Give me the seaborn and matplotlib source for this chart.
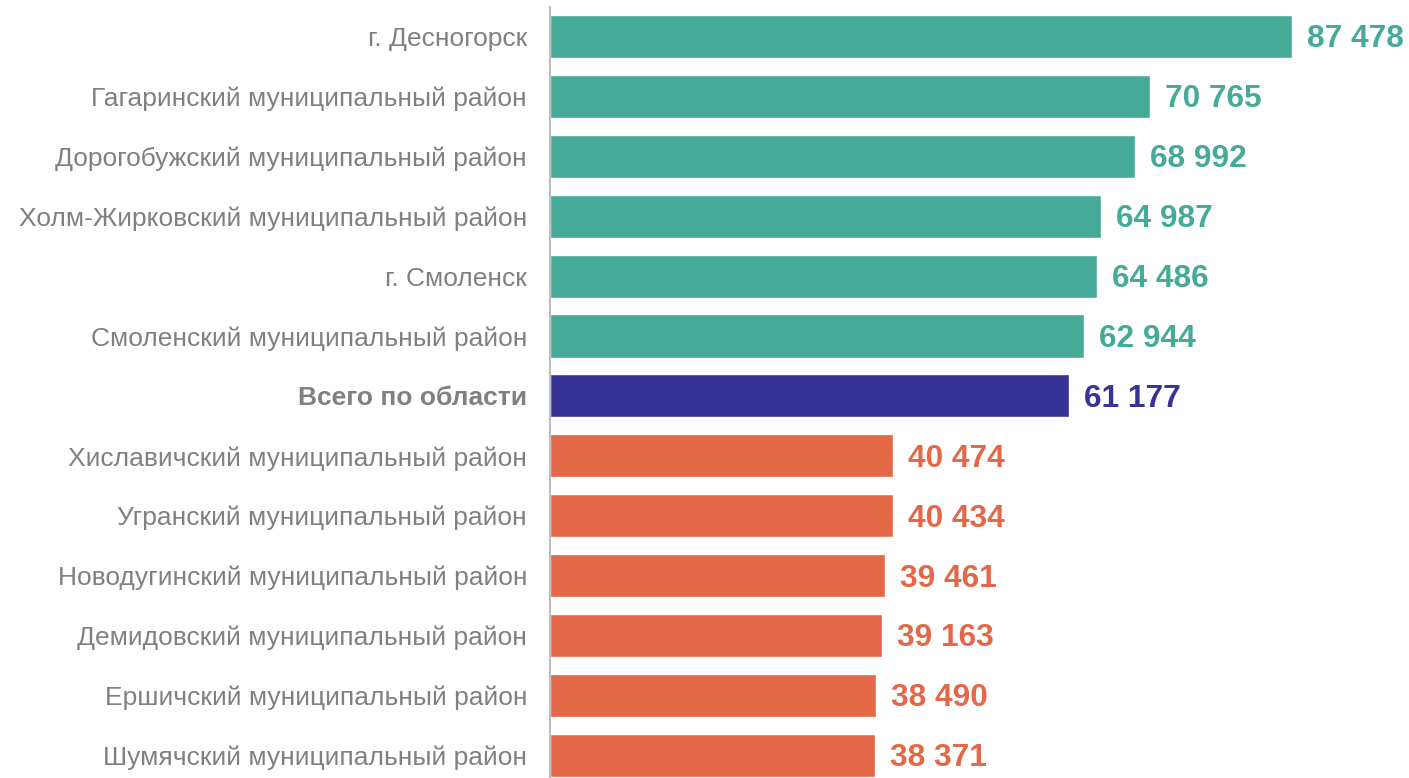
import pandas as pd
import matplotlib
matplotlib.use("Agg")
import matplotlib.pyplot as plt
import seaborn as sns

# Data
districts = [
    "г. Десногорск",
    "Гагаринский муниципальный район",
    "Дорогобужский муниципальный район",
    "Холм-Жирковский муниципальный район",
    "г. Смоленск",
    "Смоленский муниципальный район",
    "Всего по области",
    "Хиславичский муниципальный район",
    "Угранский муниципальный район",
    "Новодугинский муниципальный район",
    "Демидовский муниципальный район",
    "Ершичский муниципальный район",
    "Шумячский муниципальный район",
]
values = [87478, 70765, 68992, 64987, 64486, 62944, 61177,
          40474, 40434, 39461, 39163, 38490, 38371]
groups = ["above"] * 6 + ["total"] + ["below"] * 6

palette = {"above": "#45AB98", "total": "#383497", "below": "#E36847"}

df = pd.DataFrame({"district": districts, "value": values, "group": groups})

sns.set_style("white")
plt.rcParams["font.family"] = ["Liberation Sans", "DejaVu Sans"]

fig = plt.figure(figsize=(14.09, 7.78), dpi=100)
ax = fig.add_axes([550 / 1409, 0, 1 - 550 / 1409, (778 - 7) / 778])

sns.barplot(data=df, x="value", y="district", hue="group", palette=palette,
            dodge=False, legend=False, width=0.718, saturation=1, ax=ax)

px_per_unit = (1292 - 550) / 87478
ax.set_xlim(0, (1409 - 550) / px_per_unit)
ax.set_ylim((778 - 36.5) / 59.9, (7 - 36.5) / 59.9)

# value labels
for i, (v, g) in enumerate(zip(values, groups)):
    label = f"{v:,}".replace(",", " ")
    ax.text(v + 15 / px_per_unit, i + 0.05, label, va="center", ha="left",
            color=palette[g], fontsize=22.8, fontweight="bold")

ax.set_xlabel("")
ax.set_ylabel("")
ax.set_xticks([])
ax.tick_params(axis="y", length=0, pad=16.5, labelsize=19, labelcolor="#808080")
for lbl in ax.get_yticklabels():
    if lbl.get_text() == "Всего по области":
        lbl.set_fontweight("bold")

for side in ["top", "right", "bottom"]:
    ax.spines[side].set_visible(False)
ax.spines["left"].set_color("#BFBFBF")
ax.spines["left"].set_linewidth(1.5)

fig.savefig("out.png", dpi=100)
